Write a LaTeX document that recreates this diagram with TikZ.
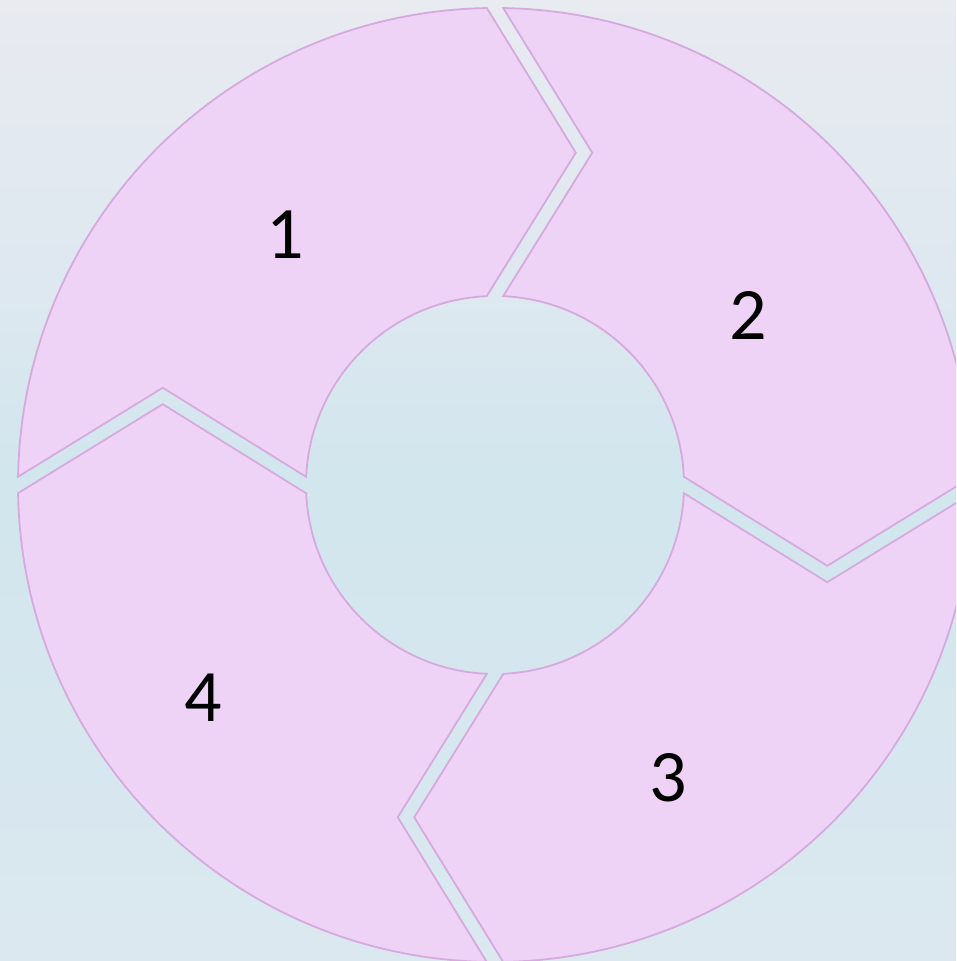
\documentclass[tikz,border=0pt]{standalone}
\usepackage{fontspec}
\setmainfont{Carlito}
\definecolor{segfill}{RGB}{239,211,247}
\definecolor{segline}{RGB}{214,170,222}
\pgfdeclareverticalshading{bgshade}{100bp}{rgb(0bp)=(0.90,0.93,0.95); rgb(25bp)=(0.86,0.91,0.94); rgb(50bp)=(0.82,0.90,0.93); rgb(60bp)=(0.87,0.91,0.94); rgb(75bp)=(0.91,0.92,0.94); rgb(100bp)=(0.93,0.94,0.95)}
\tikzset{
  seg/.style={fill=segfill, draw=segline, line width=1.8pt, line join=miter},
  lbl/.style={font=\fontsize{74}{80}\selectfont, text=black, inner sep=0pt}
}
\begin{document}
\begin{tikzpicture}[x=1pt,y=1pt]
\useasboundingbox (0,0) rectangle (956,961);
\clip (0,0) rectangle (956,961);
\shade[shading=bgshade] (0,0) rectangle (956,961);
\begin{scope}[shift={(495,476)}]
\foreach \r in {0,-90,-180,-270}{
  \begin{scope}[rotate=\r]
    \path[seg] (179.01:477) arc[start angle=179.01, end angle=90.98, radius=477]
      -- (80.80,332.30) -- (92.53:189)
      arc[start angle=92.53, end angle=177.53, radius=189]
      -- (-332.26,97.26) -- cycle;
  \end{scope}
}
\end{scope}
\node[lbl] (n1) at (285,726) {1};
\node[lbl] (n2) at (748,646) {2};
\node[lbl] (n3) at (668,183) {3};
\node[lbl] (n4) at (203,263) {4};
\end{tikzpicture}
\end{document}
